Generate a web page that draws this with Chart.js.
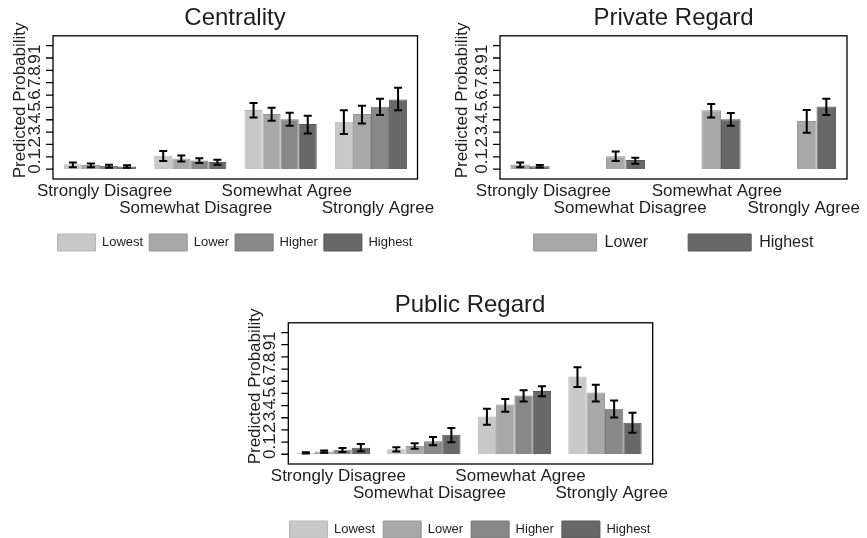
<!DOCTYPE html>
<html>
<head>
<meta charset="utf-8">
<script src="https://cdn.jsdelivr.net/npm/chart.js@4.4.1/dist/chart.umd.min.js"></script>
<style>
  html, body { margin: 0; padding: 0; background: #fff; overflow: hidden; width: 867px; height: 538px; position: relative; }
  canvas { position: absolute; }
</style>
</head>
<body>
<canvas id="centrality" width="470" height="261" style="left:0px;top:0px"></canvas>
<canvas id="privateRegard" width="467" height="261" style="left:440px;top:0px"></canvas>
<canvas id="publicRegard" width="470" height="261" style="left:235px;top:287px"></canvas>
<script>
// ---- data -------------------------------------------------------------
const categories = ['Strongly Disagree', 'Somewhat Disagree', 'Somewhat Agree', 'Strongly Agree'];
const yTickValues = [0, 0.1, 0.2, 0.3, 0.4, 0.5, 0.6, 0.7, 0.8, 0.9, 1];
const yTickLabels = ['0', '.1', '.2', '.3', '.4', '.5', '.6', '.7', '.8', '.9', '1'];
const yAxisTitle = 'Predicted Probability';

// Centrality: predicted probability with lower / upper bounds
const centLowest     = [0.040, 0.108, 0.478, 0.384];
const centLowestLo   = [0.016, 0.065, 0.419, 0.284];
const centLowestHi   = [0.054, 0.146, 0.535, 0.476];
const centLower      = [0.033, 0.086, 0.446, 0.446];
const centLowerLo    = [0.015, 0.062, 0.392, 0.370];
const centLowerHi    = [0.045, 0.111, 0.497, 0.514];
const centHigher     = [0.025, 0.070, 0.405, 0.505];
const centHigherLo   = [0.012, 0.049, 0.351, 0.438];
const centHigherHi   = [0.036, 0.089, 0.457, 0.570];
const centHighest    = [0.022, 0.057, 0.365, 0.565];
const centHighestLo  = [0.011, 0.035, 0.289, 0.476];
const centHighestHi  = [0.032, 0.076, 0.432, 0.659];

// Private Regard
const privLower      = [0.038, 0.105, 0.476, 0.389];
const privLowerLo    = [0.016, 0.065, 0.419, 0.295];
const privLowerHi    = [0.054, 0.143, 0.527, 0.478];
const privHighest    = [0.024, 0.073, 0.405, 0.508];
const privHighestLo  = [0.013, 0.043, 0.351, 0.438];
const privHighestHi  = [0.033, 0.092, 0.454, 0.570];

// Public Regard
const pubLowest      = [0.011, 0.041, 0.311, 0.638];
const pubLowestLo    = [0.006, 0.022, 0.243, 0.553];
const pubLowestHi    = [0.016, 0.057, 0.373, 0.714];
const pubLower       = [0.022, 0.068, 0.409, 0.507];
const pubLowerLo     = [0.012, 0.046, 0.349, 0.433];
const pubLowerHi     = [0.030, 0.090, 0.455, 0.572];
const pubHigher      = [0.038, 0.106, 0.482, 0.373];
const pubHigherLo    = [0.018, 0.074, 0.433, 0.302];
const pubHigherHi    = [0.052, 0.142, 0.526, 0.441];
const pubHighest     = [0.054, 0.161, 0.520, 0.259];
const pubHighestLo   = [0.025, 0.098, 0.477, 0.177];
const pubHighestHi   = [0.084, 0.215, 0.559, 0.341];

// ---- styling ----------------------------------------------------------
const ink = '#1e1e1e';
const fill = { Lowest: '#c8c8c8', Lower: '#a8a8a8', Higher: '#888888', Highest: '#686868' };
const edge = { Lowest: '#b6b6b6', Lower: '#979797', Higher: '#777777', Highest: '#575757' };
const fontFamily = '"Liberation Sans", Arial, Helvetica, sans-serif';

Chart.defaults.font.family = fontFamily;
Chart.defaults.color = ink;

function series(label, values, lo, hi) {
  return {
    label,
    data: values.map((v, i) => ({ x: i, y: v })),
    errLo: lo,
    errHi: hi,
    backgroundColor: fill[label],
    borderColor: edge[label],
    borderWidth: 1,
    xAxisID: 'x',
    yAxisID: 'y'
  };
}

// an axis that only reserves room beside the plot; its marks are drawn by framePlugin
function spacerAxis(position, width, extra) {
  return Object.assign({
    type: 'linear', position, display: true,
    grid: { display: false }, border: { display: false },
    ticks: { display: false },
    afterFit: s => { s.width = width; }
  }, extra);
}

// Frame, y axis decorations and confidence-interval whiskers
const framePlugin = {
  id: 'frame',
  afterDatasetsDraw(chart) {
    const { ctx, scales: { y } } = chart;
    ctx.save();
    ctx.strokeStyle = '#000';
    ctx.lineWidth = 2;
    chart.data.datasets.forEach((ds, di) => {
      const meta = chart.getDatasetMeta(di);
      meta.data.forEach((bar, i) => {
        const x = bar.x;
        const yl = y.getPixelForValue(ds.errLo[i]);
        const yh = y.getPixelForValue(ds.errHi[i]);
        ctx.beginPath();
        ctx.moveTo(x, yl); ctx.lineTo(x, yh);
        ctx.moveTo(x - 4, yl); ctx.lineTo(x + 4, yl);
        ctx.moveTo(x - 4, yh); ctx.lineTo(x + 4, yh);
        ctx.stroke();
      });
    });
    ctx.restore();
  },
  afterDraw(chart) {
    const { ctx, chartArea: a, scales: { y } } = chart;
    const o = chart.options.plugins.frame;
    ctx.save();
    ctx.strokeStyle = '#000';
    ctx.lineWidth = 1.3;
    ctx.strokeRect(a.left, a.top, a.right - a.left, a.bottom - a.top);
    ctx.beginPath();
    yTickValues.forEach(v => {
      const py = y.getPixelForValue(v);
      ctx.moveTo(a.left - 7, py);
      ctx.lineTo(a.left, py);
    });
    ctx.stroke();

    // rotated tick labels, packed a little tighter than the tick marks themselves
    ctx.fillStyle = ink;
    ctx.font = '17px ' + fontFamily;
    ctx.textAlign = 'center';
    ctx.textBaseline = 'alphabetic';
    yTickValues.forEach((v, i) => {
      const py = y.getPixelForValue(0.97 * v);
      ctx.save();
      ctx.translate(a.left - 13, py);
      ctx.rotate(-Math.PI / 2);
      ctx.fillText(yTickLabels[i], 0, 0);
      ctx.restore();
    });
    const mid = (y.getPixelForValue(0) + y.getPixelForValue(1)) / 2 - 7;
    ctx.translate(a.left - o.titleGap, mid);
    ctx.rotate(-Math.PI / 2);
    ctx.fillText(yAxisTitle, 0, 0);
    ctx.restore();
  }
};

function panel(id, cfg) {
  return new Chart(document.getElementById(id), {
    type: 'bar',
    data: { datasets: cfg.datasets },
    plugins: [framePlugin],
    options: {
      responsive: false,
      animation: false,
      layout: { padding: 0 },
      datasets: { bar: { categoryPercentage: cfg.groupShare, barPercentage: 1 } },
      scales: {
        x: {
          type: 'linear', display: false, offset: false, bounds: 'data',
          min: cfg.xMin, max: cfg.xMax,
          grid: { offset: false },
          afterBuildTicks: s => { s.ticks = categories.map((_, i) => ({ value: i })); }
        },
        xl: {
          type: 'category', labels: categories, position: 'bottom', offset: true,
          grid: { display: false }, border: { display: false },
          ticks: {
            autoSkip: false, maxRotation: 0, minRotation: 0,
            mirror: cfg.mirrorLabels, padding: cfg.labelPad,
            labelOffset: cfg.labelOffset, color: ink,
            font: { size: 17, lineHeight: 1 },
            callback: (v, i) => (i % 2 ? ['', categories[i]] : [categories[i], ''])
          },
          afterFit: s => { s.height = cfg.xAxisHeight; }
        },
        y: spacerAxis('left', cfg.padLeft, { min: -0.08, max: 1.08 }),
        yr: spacerAxis('right', cfg.padRight, { min: 0, max: 1 })
      },
      plugins: {
        frame: { titleGap: cfg.titleGap },
        title: {
          display: true, text: cfg.title, color: ink,
          font: { size: 24, weight: 'normal', lineHeight: 1.2 },
          padding: { top: 4, bottom: 3 }
        },
        legend: {
          position: 'bottom',
          labels: {
            boxWidth: cfg.boxWidth, boxHeight: 17, padding: cfg.legendPad,
            color: ink, font: { size: cfg.legendFont }
          }
        },
        tooltip: { enabled: false }
      }
    }
  });
}

panel('centrality', {
  title: 'Centrality',
  datasets: [
    series('Lowest', centLowest, centLowestLo, centLowestHi),
    series('Lower', centLower, centLowerLo, centLowerHi),
    series('Higher', centHigher, centHigherLo, centHigherHi),
    series('Highest', centHighest, centHighestLo, centHighestHi)
  ],
  padLeft: 53, padRight: 52.5, xMin: -0.52, xMax: 3.515, groupShare: 0.8,
  labelOffset: 6, labelPad: -4, mirrorLabels: false, xAxisHeight: 49, titleGap: 28,
  boxWidth: 38, legendPad: 6, legendFont: 13
});

// the wide legend spacing leaves little room for the label axis, so its labels hang below it
panel('privateRegard', {
  title: 'Private Regard',
  datasets: [
    series('Lower', privLower, privLowerLo, privLowerHi),
    series('Highest', privHighest, privHighestLo, privHighestHi)
  ],
  padLeft: 60, padRight: 60, xMin: -0.314, xMax: 3.319, groupShare: 0.41,
  labelOffset: 0, labelPad: -21, mirrorLabels: true, xAxisHeight: 15, titleGap: 33,
  boxWidth: 63, legendPad: 40, legendFont: 16
});

panel('publicRegard', {
  title: 'Public Regard',
  datasets: [
    series('Lowest', pubLowest, pubLowestLo, pubLowestHi),
    series('Lower', pubLower, pubLowerLo, pubLowerHi),
    series('Higher', pubHigher, pubHigherLo, pubHigherHi),
    series('Highest', pubHighest, pubHighestLo, pubHighestHi)
  ],
  padLeft: 53.3, padRight: 52.3, xMin: -0.497, xMax: 3.527, groupShare: 0.81,
  labelOffset: 4.5, labelPad: -4, mirrorLabels: false, xAxisHeight: 49, titleGap: 28,
  boxWidth: 38, legendPad: 8, legendFont: 13
});
</script>
</body>
</html>
